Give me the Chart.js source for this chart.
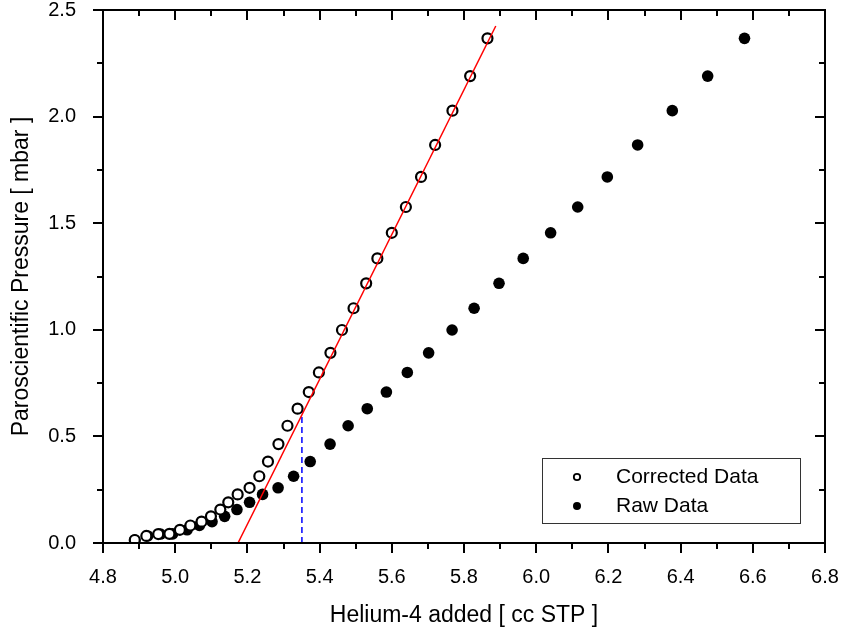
<!DOCTYPE html>
<html>
<head>
<meta charset="utf-8">
<script src="https://cdn.jsdelivr.net/npm/chart.js@4.4.1/dist/chart.umd.min.js"></script>
<style>
  html, body { margin: 0; padding: 0; background: #fff; }
  canvas { display: block; }
</style>
</head>
<body>
<canvas id="chart" width="845" height="635"></canvas>
<script>
// pressure readings (mbar), shared by both series
const pressure = [0.014, 0.033, 0.042, 0.043, 0.062, 0.082, 0.100, 0.125, 0.157, 0.191, 0.228, 0.259, 0.313, 0.382, 0.464, 0.550, 0.630, 0.708, 0.800, 0.892, 0.999, 1.101, 1.218, 1.335, 1.455, 1.576, 1.717, 1.867, 2.028, 2.190, 2.367];
const rawHelium = [4.888, 4.924, 4.959, 4.993, 5.033, 5.067, 5.102, 5.137, 5.171, 5.206, 5.242, 5.285, 5.328, 5.374, 5.429, 5.479, 5.532, 5.585, 5.643, 5.702, 5.767, 5.828, 5.897, 5.964, 6.040, 6.115, 6.197, 6.281, 6.377, 6.475, 6.577];
const correctedHelium = [4.888, 4.920, 4.953, 4.984, 5.013, 5.042, 5.073, 5.099, 5.125, 5.147, 5.173, 5.206, 5.233, 5.257, 5.286, 5.311, 5.339, 5.370, 5.398, 5.430, 5.462, 5.494, 5.529, 5.560, 5.600, 5.639, 5.681, 5.720, 5.768, 5.817, 5.865];

const fitLine = [{ x: 5.174, y: 0 }, { x: 5.888, y: 2.425 }];
const markerLine = [{ x: 5.351, y: 0 }, { x: 5.351, y: 0.64 }];

const xMajor = [4.8, 5.0, 5.2, 5.4, 5.6, 5.8, 6.0, 6.2, 6.4, 6.6, 6.8];
const xMinor = [4.9, 5.1, 5.3, 5.5, 5.7, 5.9, 6.1, 6.3, 6.5, 6.7];
const yMajor = [0.0, 0.5, 1.0, 1.5, 2.0, 2.5];
const yMinor = [0.25, 0.75, 1.25, 1.75, 2.25];

const FONT = '"Liberation Sans", Arial, sans-serif';

const toPoints = (xs, ys) => xs.map((x, i) => ({ x, y: ys[i] }));

// frame with mirrored ticks: outward on left/bottom, inward on top/right
const framePlugin = {
    id: 'frame',
    afterDatasetsDraw(chart) {
        const { ctx, chartArea: a, scales: { x, y } } = chart;
        ctx.save();
        ctx.strokeStyle = '#000';
        ctx.lineWidth = 2;
        ctx.strokeRect(a.left, a.top, a.right - a.left, a.bottom - a.top);

        const tick = (x1, y1, x2, y2) => {
            ctx.beginPath();
            ctx.moveTo(x1, y1);
            ctx.lineTo(x2, y2);
            ctx.stroke();
        };
        const drawX = (values, len) => values.forEach((v) => {
            const px = Math.round(x.getPixelForValue(v));
            tick(px, a.bottom, px, a.bottom + len);
            tick(px, a.top, px, a.top + len);
        });
        const drawY = (values, len) => values.forEach((v) => {
            const py = Math.round(y.getPixelForValue(v));
            tick(a.left, py, a.left - len, py);
            tick(a.right, py, a.right - len, py);
        });
        drawX(xMajor, 10);
        drawX(xMinor, 6);
        drawY(yMajor, 10);
        drawY(yMinor, 6);
        ctx.restore();
    },
};

const legendPlugin = {
    id: 'boxLegend',
    afterDraw(chart) {
        const { ctx } = chart;
        const left = 542, top = 458, width = 258, height = 65;
        ctx.save();
        ctx.fillStyle = '#fff';
        ctx.fillRect(left, top, width, height);
        ctx.strokeStyle = '#333';
        ctx.lineWidth = 1;
        ctx.strokeRect(left + 0.5, top + 0.5, width, height);

        ctx.font = `21px ${FONT}`;
        ctx.textBaseline = 'middle';
        ctx.fillStyle = '#000';

        const rows = [
            { label: chart.data.datasets[1].label, y: top + 19, open: true },
            { label: chart.data.datasets[2].label, y: top + 48, open: false },
        ];
        rows.forEach((row) => {
            ctx.beginPath();
            ctx.arc(577, row.y, row.open ? 3.2 : 4, 0, Math.PI * 2);
            if (row.open) {
                ctx.lineWidth = 1.8;
                ctx.strokeStyle = '#000';
                ctx.stroke();
            } else {
                ctx.fill();
            }
            ctx.fillText(row.label, 616, row.y);
        });
        ctx.restore();
    },
};

new Chart(document.getElementById('chart'), {
    type: 'scatter',
    data: {
        datasets: [
            {
                label: 'Fit',
                data: fitLine,
                showLine: true,
                borderColor: '#ff0000',
                borderWidth: 1.5,
                pointRadius: 0,
            },
            {
                label: 'Corrected Data',
                data: toPoints(correctedHelium, pressure),
                pointRadius: 5,
                borderWidth: 2.2,
                borderColor: '#000',
                backgroundColor: '#fff',
            },
            {
                label: 'Raw Data',
                data: toPoints(rawHelium, pressure),
                pointRadius: 5.8,
                borderWidth: 0,
                backgroundColor: '#000',
                borderColor: '#000',
            },
            {
                label: 'Onset',
                data: markerLine,
                showLine: true,
                borderColor: '#0000ff',
                borderWidth: 1.5,
                borderDash: [6, 4],
                pointRadius: 0,
            },
        ],
    },
    options: {
        responsive: false,
        devicePixelRatio: 1,
        animation: false,
        layout: { padding: { top: 10, right: 20, left: 0, bottom: 0 } },
        plugins: {
            legend: { display: false },
            tooltip: { enabled: false },
        },
        scales: {
            x: {
                type: 'linear',
                min: 4.8,
                max: 6.8,
                afterBuildTicks: (scale) => { scale.ticks = xMajor.map((value) => ({ value })); },
                afterFit: (scale) => {
                    scale.height = 92;
                    scale.paddingLeft = 0;
                    scale.paddingRight = 0;
                },
                grid: { display: false },
                border: { display: false },
                ticks: {
                    color: '#000',
                    font: { family: FONT, size: 20 },
                    padding: 14,
                    maxRotation: 0,
                    callback: (v) => v.toFixed(1),
                },
                title: {
                    display: true,
                    text: 'Helium-4 added [ cc STP ]',
                    color: '#000',
                    font: { family: FONT, size: 23 },
                    padding: { top: 0, bottom: 6 },
                },
            },
            y: {
                type: 'linear',
                min: 0,
                max: 2.5,
                afterBuildTicks: (scale) => { scale.ticks = yMajor.map((value) => ({ value })); },
                afterFit: (scale) => {
                    scale.width = 103;
                    scale.paddingTop = 0;
                    scale.paddingBottom = 0;
                },
                grid: { display: false },
                border: { display: false },
                ticks: {
                    color: '#000',
                    font: { family: FONT, size: 20 },
                    padding: 19,
                    callback: (v) => v.toFixed(1),
                },
                title: {
                    display: true,
                    text: 'Paroscientific Pressure [ mbar ]',
                    color: '#000',
                    font: { family: FONT, size: 23 },
                    padding: { top: 8, bottom: 0 },
                },
            },
        },
    },
    plugins: [framePlugin, legendPlugin],
});
</script>
</body>
</html>
